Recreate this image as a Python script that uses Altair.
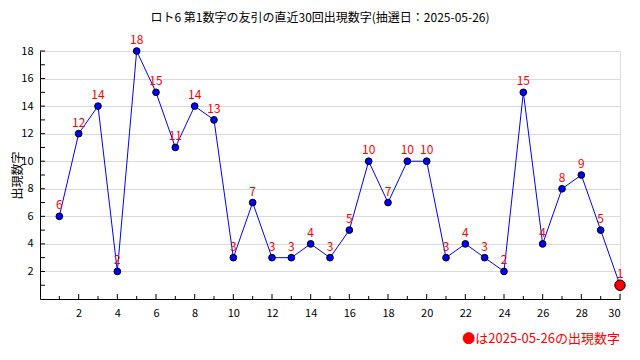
import altair as alt
import pandas as pd

draws = list(range(1, 31))
values = [6, 12, 14, 2, 18, 15, 11, 14, 13, 3, 7, 3, 3, 4, 3, 5, 10, 7, 10, 10,
          3, 4, 3, 2, 15, 4, 8, 9, 5, 1]
x_ticks = list(range(2, 31, 2))
y_ticks = list(range(2, 19, 2))
y_minor = list(range(1, 19))
title_text = "ロト6 第1数字の友引の直近30回出現数字(抽選日：2025-05-26)"
y_title = "出現数字"
note_text = "●は2025-05-26の出現数字"

FONT = "Noto Sans CJK JP"

df = pd.DataFrame({"n": draws, "v": values})
last = df.tail(1)
xt_odd = pd.DataFrame({"n": [t for t in range(1, 31) if t % 2 == 1]})
xt_even = pd.DataFrame({"n": [t for t in range(1, 31) if t % 2 == 0]})
yt = pd.DataFrame({"yv": y_minor})

xs = alt.Scale(domain=[0, 30], nice=False, zero=False)
ys = alt.Scale(domain=[0, 18], nice=False, zero=False)

xax = alt.Axis(values=x_ticks, grid=False, tickSize=0, labelPadding=8,
               domainColor="black", labelColor="black", labelFontSize=11,
               labelFont=FONT, title=None, labelOverlap=False)
yax = alt.Axis(values=y_ticks, grid=True, gridColor="#d9d9d9", tickSize=0,
               labelPadding=7, domainColor="black", labelColor="black",
               labelFontSize=11, labelFont=FONT, title=y_title,
               titleFont=FONT, titleFontSize=12, titleFontWeight="normal",
               titleX=-23, titleY=124, titleAngle=270, titleBaseline="middle",
               titleAlign="center", titleColor="black", labelOverlap=False)

X = lambda f: alt.X(f, scale=xs, axis=xax)
Yax = lambda f: alt.Y(f, scale=ys, axis=yax)
Y = lambda f: alt.Y(f, scale=ys, axis=None)

base = alt.Chart(df)

line = base.mark_line(color="#0000ff", strokeWidth=1, clip=False).encode(
    x=X("n:Q"), y=Yax("v:Q"))

pts = base.mark_point(filled=True, fill="#0000ff", stroke="black",
                      strokeWidth=1, size=45, opacity=1, clip=False).encode(
    x=X("n:Q"), y=Y("v:Q"))

lastpt = alt.Chart(last).mark_point(filled=True, fill="#ff0000", stroke="black",
                                    strokeWidth=1, size=110, opacity=1,
                                    clip=False).encode(x=X("n:Q"), y=Y("v:Q"))

labels = base.mark_text(color="#ff0000", fontSize=12, font=FONT, dy=-11,
                        baseline="middle", clip=False).encode(
    x=X("n:Q"), y=Y("v:Q"), text="v:Q")

xtick_odd = alt.Chart(xt_odd).mark_tick(color="black", thickness=1, size=3,
                                        orient="vertical", opacity=1).encode(
    x=X("n:Q"), y=alt.value(246.5))
xtick_even = alt.Chart(xt_even).mark_tick(color="black", thickness=1, size=5,
                                          orient="vertical", opacity=1).encode(
    x=X("n:Q"), y=alt.value(245.5))

ytick = alt.Chart(yt).mark_rule(color="black", strokeWidth=1, opacity=1).encode(
    y=Y("yv:Q"), x=alt.value(0), x2=alt.value(5))

note = alt.Chart(pd.DataFrame({"t": [note_text]})).mark_text(
    color="#ff0000", fontSize=13, font=FONT, align="right", baseline="middle"
).encode(x=alt.value(580), y=alt.value(288), text="t:N")

title = alt.Chart(pd.DataFrame({"t": [title_text]})).mark_text(
    color="black", fontSize=12, font=FONT, align="center", baseline="middle"
).encode(x=alt.value(280), y=alt.value(-33), text="t:N")

chart = alt.layer(line, ytick, xtick_odd, xtick_even, pts, lastpt, labels,
                  note, title).resolve_scale(y="independent").properties(
    width=580, height=248,
    autosize=alt.AutoSizeParams(type="none"),
    padding={"left": 32, "top": 43, "right": 12, "bottom": 53},
).configure_view(stroke=None).configure(background="white")

chart.save("out.html", embed_options={"renderer": "svg", "actions": False})
